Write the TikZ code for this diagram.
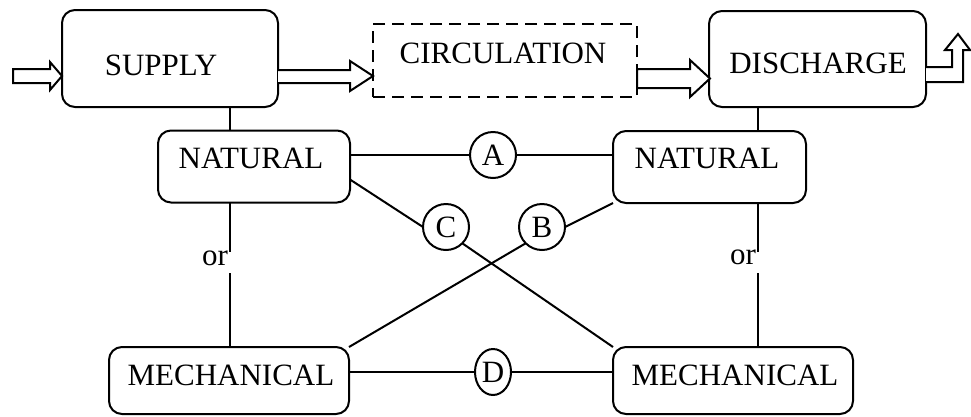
\documentclass[tikz,border=0pt]{standalone}
\usepackage{fontspec}
\setmainfont{Liberation Serif}
\usetikzlibrary{shapes.geometric}
\begin{document}
\begin{tikzpicture}[x=1pt,y=-1pt,
  lbl/.style={inner sep=0pt,outer sep=0pt,font=\fontsize{31}{34}\selectfont},
  box/.style={draw,line width=2pt,rounded corners=13pt,inner sep=0pt,outer sep=0pt},
  dbox/.style={draw,line width=2pt,dash pattern=on 12pt off 7pt,inner sep=0pt,outer sep=0pt},
  circ/.style={draw,circle,line width=2pt,minimum size=46pt,inner sep=0pt,outer sep=0pt,font=\fontsize{31}{34}\selectfont},
  ell/.style={draw,ellipse,line width=2pt,minimum width=36pt,minimum height=46pt,inner sep=0pt,outer sep=0pt,font=\fontsize{31}{34}\selectfont},
  conn/.style={line width=2pt},
  blk/.style={draw,line width=2pt,line join=miter,fill=white}]
\useasboundingbox (0,0) rectangle (971,416);
% boxes
\node[box,minimum width=216pt,minimum height=97pt] (supply) at (170,58.5) {};
\node[dbox,minimum width=264pt,minimum height=73pt] (circul) at (505,60.5) {};
\node[box,minimum width=217pt,minimum height=96pt] (disch) at (817.5,59) {};
\node[box,minimum width=192pt,minimum height=72pt] (natL) at (254,166.5) {};
\node[box,minimum width=193pt,minimum height=72pt] (natR) at (709.5,167) {};
\node[box,minimum width=240pt,minimum height=67pt] (mechL) at (229,380.5) {};
\node[box,minimum width=240pt,minimum height=67pt] (mechR) at (733,380.5) {};
% texts
\node[lbl] (supplyt) at (161,65) {SUPPLY};
\node[lbl] (circult) at (503,53) {CIRCULATION};
\node[lbl] (discht) at (818,63) {DISCHARGE};
\node[lbl] (natLt) at (251,158) {NATURAL};
\node[lbl] (natRt) at (707,158) {NATURAL};
\node[lbl] (mechLt) at (231,375) {MECHANICAL};
\node[lbl] (mechRt) at (735,375) {MECHANICAL};
% circles
\node[circ] (A) at (493,155) {A};
\node[circ] (C) at (446,227) {C};
\node[circ] (B) at (542,227) {B};
\node[ell] (D) at (493,372) {D};
% or labels
\coordinate (vL) at (230,0);
\coordinate (vR) at (758,0);
\node[lbl,anchor=east] (orL) at (228,258) {or};
\node[lbl,anchor=east] (orR) at (756,257) {or};
\coordinate (gL1) at (230,252);
\coordinate (gL2) at (230,273);
\coordinate (gR1) at (758,252);
\coordinate (gR2) at (758,273);
% vertical connectors
\draw[conn] (vL |- supply.south) -- (vL |- natL.north);
\draw[conn] (vL |- natL.south) -- (gL1);
\draw[conn] (gL2) -- (vL |- mechL.north);
\draw[conn] (vR |- disch.south) -- (vR |- natR.north);
\draw[conn] (vR |- natR.south) -- (gR1);
\draw[conn] (gR2) -- (vR |- mechR.north);
% connectors through circles
\draw[conn] (natL.east |- A) -- (A.west);
\draw[conn] (A.east) -- (natR.west |- A);
\draw[conn] ([yshift=-13pt]natL.east) -- (C.west);
\draw[conn] (B.east) -- (natR.south west);
\draw[conn] (C.south east) -- (mechR.north west);
\draw[conn] (B.south west) -- (mechL.north east);
\draw[conn] (mechL.east |- D) -- (D.west);
\draw[conn] (D.east) -- (mechR.west |- D);
% block arrows
\draw[blk] (13,69) -- (50,69) -- (50,62) -- (62,76) -- (50,90) -- (50,83) -- (13,83) -- cycle;
\draw[blk] (278,70) -- (350,70) -- (350,61) -- (373,76) -- (350,91) -- (350,83) -- (278,83);
\draw[blk] (637,69) -- (690,69) -- (690,60) -- (710,78.5) -- (690,97) -- (690,88) -- (637,88) -- cycle;
\draw[blk] (926,67) -- (952,67) -- (952,50) -- (945,50) -- (958,34) -- (970,50) -- (963,50) -- (963,82) -- (926,82);
\end{tikzpicture}
\end{document}
